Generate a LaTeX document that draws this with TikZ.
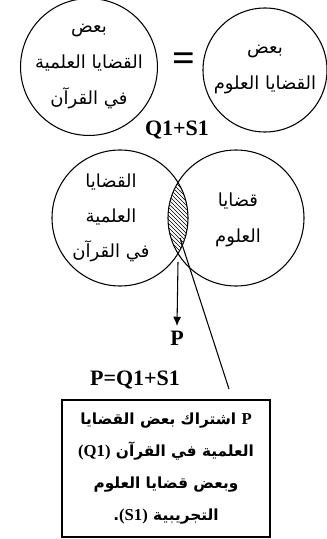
\documentclass[tikz,border=0pt]{standalone}
\usepackage{fontspec}
\setmainfont{Liberation Serif}
\newfontfamily\arabicfont[Script=Arabic]{DejaVu Sans}
\TeXXeTstate=1
\usetikzlibrary{patterns,arrows.meta}
\newcommand\artxt[1]{{\arabicfont\beginR #1\endR}}
\newcommand\lat[1]{\beginL{\rmfamily\bfseries\fontsize{12.5}{24}\selectfont #1}\endL}

\begin{document}
\begin{tikzpicture}[x=0.75pt,y=-0.75pt,
  ring/.style={shape=circle,draw,thick,inner sep=0,align=center,font=\fontsize{13.5}{27}\selectfont},
  artext/.style={align=center,font=\fontsize{13.5}{26.5}\selectfont},
  latin/.style={font=\fontsize{16.5}{18}\selectfont\bfseries}]
\useasboundingbox (0,0) rectangle (327,539);

\node[ring,minimum size=93pt] (qsome) at (89,67) {\artxt{بعض}\\\artxt{القضايا العلمية}\\\artxt{في القرآن}};
\node[ring,minimum size=93pt] (ssome) at (265,70) {\artxt{بعض}\\\artxt{القضايا العلوم}};
\node[font=\fontsize{30}{30}\selectfont\bfseries] (same) at (184,62) {=};
\node[latin] (qs) at (177,130) {Q1+S1};

\node[ring,minimum size=102pt] (qset) at (120,218) {};
\node[ring,minimum size=102pt] (sset) at (236,218) {};
\begin{scope}
  \clip (qset.center) circle[radius=51pt];
  \fill[pattern=north west lines] (sset.center) circle[radius=51pt];
\end{scope}
\node[artext] (qtxt) at (111,218) {\artxt{القضايا}\\\artxt{العلمية}\\\artxt{في القرآن}};
\node[artext] (stxt) at (238,220) {\artxt{قضايا}\\\artxt{العلوم}};

\coordinate (lensbot) at (178,262);
\coordinate (lensmid) at (180,238);
\coordinate (tail) at (229,389);
\node[latin] (p) at (177,338) {P};
\draw[thick,-{Latex[length=7pt,width=6pt]}] (lensbot) -- (p.north);
\draw[thick] (lensmid) -- (tail);

\node[latin] (eq) at (135,380) {P=Q1+S1};
\node[draw,line width=1.3pt,minimum width=156pt,minimum height=103pt,align=center,
  font=\fontsize{11.5}{24}\selectfont\bfseries] (note) at (166,468.5)
  {\artxt{\lat{P} اشتراك بعض القضايا}\\\artxt{العلمية في القرآن \lat{(Q1)}}\\
   \artxt{وبعض قضايا العلوم}\\\artxt{التجريبية \lat{(S1)}.}};
\end{tikzpicture}
\end{document}
